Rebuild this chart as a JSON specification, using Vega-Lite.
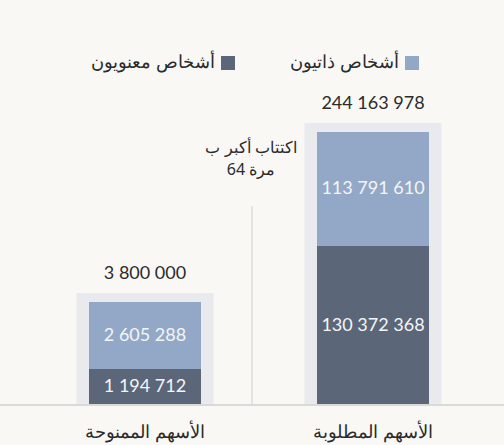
{
  "$schema": "https://vega.github.io/schema/vega-lite/v6.json",
  "width": 504,
  "height": 445,
  "padding": 0,
  "autosize": {"type": "none"},
  "background": "#f9f8f5",
  "config": {
    "view": {"stroke": null},
    "locale": {"number": {"decimal": ".", "thousands": " ", "grouping": [3], "currency": ["", ""]}},
    "text": {"font": "Lato"}
  },
  "data": {
    "values": [
      {"category": "الأسهم الممنوحة", "group": "أشخاص معنويون", "value": 1194712},
      {"category": "الأسهم الممنوحة", "group": "أشخاص ذاتيون", "value": 2605288},
      {"category": "الأسهم المطلوبة", "group": "أشخاص معنويون", "value": 130372368},
      {"category": "الأسهم المطلوبة", "group": "أشخاص ذاتيون", "value": 113791610}
    ]
  },
  "encoding": {
    "x": {
      "field": "category", "type": "nominal",
      "scale": {"domain": ["الأسهم الممنوحة", "الأسهم المطلوبة"], "range": [31, 487], "paddingInner": 0, "paddingOuter": 0},
      "axis": null
    }
  },
  "layer": [
    {
      "transform": [{"aggregate": [{"op": "sum", "field": "value", "as": "total"}], "groupby": ["category"]}],
      "mark": {"type": "bar", "width": 137, "color": "#e9eaee", "yOffset": -9, "y2Offset": 0},
      "encoding": {
        "y": {"field": "total", "type": "quantitative",
          "scale": {"type": "linear", "domain": [0, 1194712, 3800000, 130372368, 244163978], "range": [405, 369, 302, 246, 132], "nice": false, "zero": false},
          "axis": null},
        "y2": {"datum": 0}
      }
    },
    {
      "mark": {"type": "bar", "width": 112},
      "encoding": {
        "y": {"field": "value", "type": "quantitative", "stack": "zero"},
        "color": {
          "field": "group", "type": "nominal",
          "scale": {"domain": ["أشخاص معنويون", "أشخاص ذاتيون"], "range": ["#5b6779", "#93a8c6"]},
          "legend": {
            "title": null, "orient": "none", "legendX": 219, "legendY": 54, "direction": "horizontal",
            "symbolType": "square", "symbolSize": 196, "symbolStrokeWidth": 0, "symbolOpacity": 1,
            "labelFont": "Noto Sans", "labelFontSize": 18, "labelColor": "#2b2b2b",
            "labelAlign": "right", "labelOffset": -22, "columnPadding": 55, "labelLimit": 300
          }
        },
        "order": {"field": "group", "sort": "descending"}
      }
    },
    {
      "transform": [
        {"stack": "value", "groupby": ["category"], "sort": [{"field": "group", "order": "descending"}], "as": ["v0", "v1"]},
        {"calculate": "(scale('y', datum.v0) + scale('y', datum.v1)) / 2", "as": "mid"}
      ],
      "mark": {"type": "text", "color": "#f4f5f7", "fontSize": 18, "baseline": "middle"},
      "encoding": {
        "y": {"field": "mid", "type": "quantitative", "scale": null},
        "text": {"field": "value", "type": "quantitative", "format": ",d"}
      }
    },
    {
      "transform": [{"aggregate": [{"op": "sum", "field": "value", "as": "total"}], "groupby": ["category"]}],
      "mark": {"type": "text", "color": "#2b2b2b", "fontSize": 18, "baseline": "alphabetic", "dy": -23},
      "encoding": {
        "y": {"field": "total", "type": "quantitative"},
        "text": {"field": "total", "type": "quantitative", "format": ",d"}
      }
    },
    {
      "transform": [{"aggregate": [{"op": "count", "as": "n"}], "groupby": ["category"]}],
      "mark": {"type": "text", "color": "#2b2b2b", "fontSize": 18, "font": "Noto Sans", "baseline": "middle", "dy": 28},
      "encoding": {
        "y": {"datum": 0, "type": "quantitative"},
        "text": {"field": "category"}
      }
    },
    {
      "mark": {"type": "rule", "color": "#d9d9d7", "strokeWidth": 2},
      "encoding": {"y": {"datum": 0, "type": "quantitative"}, "x": null}
    },
    {
      "transform": [{"filter": "datum.category === 'الأسهم المطلوبة' && datum.group === 'أشخاص معنويون'"}],
      "mark": {"type": "rule", "color": "#dcdcda", "strokeWidth": 1.5, "xOffset": -7},
      "encoding": {
        "x": {"field": "category", "type": "nominal", "bandPosition": 0},
        "y": {"datum": 170000000, "type": "quantitative"},
        "y2": {"datum": 0}
      }
    },
    {
      "transform": [{"filter": "datum.category === 'الأسهم المطلوبة' && datum.group === 'أشخاص معنويون'"}],
      "mark": {"type": "text", "color": "#2b2b2b", "fontSize": 16, "font": "Noto Sans", "baseline": "middle", "lineHeight": 22, "xOffset": -8, "dy": -58,
        "text": ["اكتتاب أكبر ب", "64 مرة"]},
      "encoding": {
        "x": {"field": "category", "type": "nominal", "bandPosition": 0},
        "y": {"datum": 170000000, "type": "quantitative"}
      }
    }
  ]
}
